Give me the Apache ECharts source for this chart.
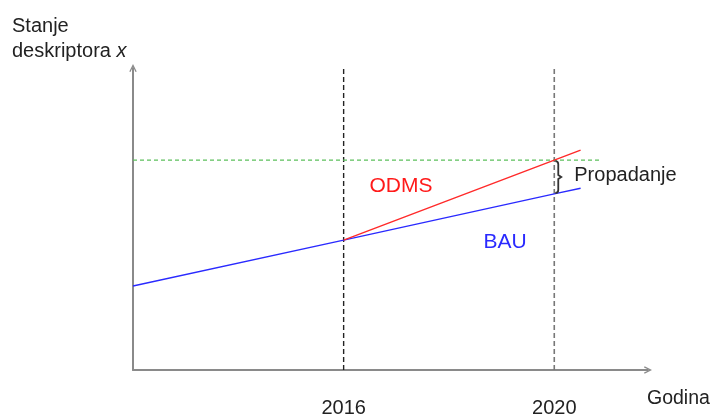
<!DOCTYPE html>
<html>
<head>
<meta charset="utf-8">
<script src="https://cdn.jsdelivr.net/npm/echarts@6/dist/echarts.min.js"></script>
<style>
  html, body { margin: 0; padding: 0; background: #fff; }
  #chart { width: 711px; height: 415px; }
</style>
</head>
<body>
<div id="chart"></div>
<script>
// Descriptor state over time: business as usual vs. with measures
const xRange = [2012, 2021.78];
const yRange = [0, 10];
const markerYears = [2016, 2020];
const markerLabels = ['2016', '2020'];

const bauYears = [2012, 2016, 2020, 2020.5];
const bauValues = [2.78, 4.30, 5.83, 6.02];

const odmsYears = [2016, 2020, 2020.5];
const odmsValues = [4.30, 6.95, 7.28];

const dsoLevel = 6.95;
const dsoYears = [2012, 2020.87];

// Gap between target path and BAU at the target year
const gapYear = 2020;
const gapTop = 6.95;
const gapBottom = 5.83;

const pair = (xs, ys) => xs.map((x, i) => [x, ys[i]]);
const FONT = 'Liberation Sans, Arial, sans-serif';

const chevron = 'path://M0,10 L5,0 L10,10 L8.4,10.8 L5,3.6 L1.6,10.8 Z';

const chart = echarts.init(document.getElementById('chart'), null, { renderer: 'canvas' });

const option = {
  animation: false,
  backgroundColor: '#fff',
  grid: { left: 133, right: 63, top: 68, bottom: 45, outerBoundsMode: 'none', containLabel: false },
  xAxis: {
    type: 'value',
    min: xRange[0],
    max: xRange[1],
    name: 'Godina',
    nameLocation: 'end',
    nameGap: -1,
    nameTextStyle: {
      fontFamily: FONT, fontSize: 19.5, color: '#222',
      align: 'left', verticalAlign: 'top', padding: [19, 0, 0, 0]
    },
    axisLine: {
      show: true,
      lineStyle: { color: '#8a8a8a', width: 2 },
      symbol: ['none', chevron],
      symbolSize: [11, 8]
    },
    axisTick: { show: false },
    splitLine: { show: false },
    axisLabel: {
      customValues: markerYears,
      formatter: v => markerLabels[markerYears.indexOf(v)] || '',
      fontFamily: FONT, fontSize: 20, color: '#222', margin: 28
    }
  },
  yAxis: {
    type: 'value',
    min: yRange[0],
    max: yRange[1],
    axisLine: {
      show: true,
      lineStyle: { color: '#8a8a8a', width: 2 },
      symbol: ['none', chevron],
      symbolSize: [11, 8]
    },
    axisTick: { show: false },
    axisLabel: { show: false },
    splitLine: { show: false }
  },
  graphic: [
    { type: 'text', left: 12, top: 16, style: { text: 'Stanje', font: '20px ' + FONT, fill: '#222' } },
    {
      type: 'text', left: 12, top: 41,
      style: {
        text: '{n|deskriptora }{i|x}',
        rich: {
          n: { fontFamily: FONT, fontSize: 20, fill: '#222' },
          i: { fontFamily: FONT, fontSize: 20, fontStyle: 'italic', fill: '#222' }
        }
      }
    },
    { type: 'text', x: 401, y: 186, style: { text: 'ODMS', font: '21px ' + FONT, fill: '#ff1a1a', align: 'center', verticalAlign: 'middle' } },
    { type: 'text', x: 505, y: 242, style: { text: 'BAU', font: '21px ' + FONT, fill: '#2a2aff', align: 'center', verticalAlign: 'middle' } }
  ],
  series: [
    {
      name: 'DSO',
      type: 'line',
      data: pair(dsoYears, [dsoLevel, dsoLevel]),
      symbol: 'none',
      lineStyle: { color: '#5cc05c', width: 1.3, type: [4, 3] },
      label: {
        show: true,
        position: 'left',
        distance: 30,
        formatter: p => (p.dataIndex === 0 ? 'DSO' : ''),
        fontFamily: FONT, fontSize: 21, color: '#22ee22'
      },
      z: 2
    },
    {
      name: 'marker2016',
      type: 'line',
      data: [[markerYears[0], yRange[0]], [markerYears[0], yRange[1]]],
      symbol: 'none',
      lineStyle: { color: '#222', width: 1.4, type: [5, 3] },
      z: 1
    },
    {
      name: 'marker2020',
      type: 'line',
      data: [[markerYears[1], yRange[0]], [markerYears[1], yRange[1]]],
      symbol: 'none',
      lineStyle: { color: '#777', width: 1.6, type: [5, 3] },
      z: 1
    },
    {
      name: 'BAU',
      type: 'line',
      data: pair(bauYears, bauValues),
      symbol: 'none',
      lineStyle: { color: '#2a2aff', width: 1.4 },
      z: 3
    },
    {
      name: 'ODMS',
      type: 'line',
      data: pair(odmsYears, odmsValues),
      symbol: 'none',
      lineStyle: { color: '#ff2a2a', width: 1.4 },
      z: 3
    },
    {
      name: 'Propadanje',
      type: 'custom',
      data: [[gapYear, gapTop, gapBottom]],
      renderItem: (params, api) => {
        const top = api.coord([api.value(0), api.value(1)]);
        const bot = api.coord([api.value(0), api.value(2)]);
        const x = top[0] + 1;
        const t = top[1] + 1, b = bot[1] - 1, m = (t + b) / 2;
        const path =
          `M${x},${t} Q${x + 3},${t} ${x + 3},${t + 3} L${x + 3},${m - 2} L${x + 6},${m} ` +
          `L${x + 3},${m + 2} L${x + 3},${b - 3} Q${x + 3},${b} ${x},${b}`;
        return {
          type: 'group',
          children: [
            {
              type: 'path',
              shape: { pathData: path },
              style: { stroke: '#333', lineWidth: 1.8, fill: null }
            },
            {
              type: 'text',
              x: x + 19,
              y: m - 2,
              style: { text: 'Propadanje', font: '20px ' + FONT, fill: '#222', align: 'left', verticalAlign: 'middle' }
            }
          ]
        };
      },
      z: 4
    }
  ]
};

chart.setOption(option);
</script>
</body>
</html>
